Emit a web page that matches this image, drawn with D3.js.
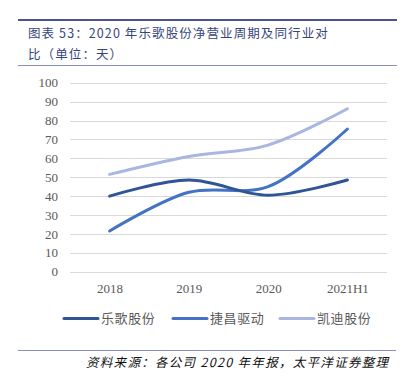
<!DOCTYPE html>
<html>
<head>
<meta charset="utf-8">
<title>乐歌股份净营业周期</title>
<script src="https://d3js.org/d3.v7.min.js"></script>
<style>
  body { margin: 0; background: #fff; }
  svg { display: block; }
</style>
</head>
<body>
<div id="chart"></div>
<script>
// categories and series
var years = ["2018", "2019", "2020", "2021H1"];
var yuege = [40, 48.5, 40.5, 48.5];     // 乐歌股份
var jiechang = [21.5, 42, 45, 75.5];    // 捷昌驱动
var kaidi = [51.5, 61, 67, 86.2];       // 凯迪股份
var seriesNames = ["乐歌股份", "捷昌驱动", "凯迪股份"];
var yTicks = [0, 10, 20, 30, 40, 50, 60, 70, 80, 90, 100];

var W = 409, H = 377;
var svg = d3.select("#chart").append("svg")
  .attr("width", W).attr("height", H);

// title block
svg.append("line").attr("x1", 18).attr("x2", 397).attr("y1", 20).attr("y2", 20)
  .attr("stroke", "#4b5391").attr("stroke-width", 2);
var title = svg.append("text")
  .attr("font-family", "'Noto Sans CJK SC', sans-serif")
  .attr("font-size", 12.5).attr("fill", "#36457a").attr("letter-spacing", 1.1);
title.append("tspan").attr("x", 28).attr("y", 38).text("图表 53：2020 年乐歌股份净营业周期及同行业对");
title.append("tspan").attr("x", 28).attr("y", 59).text("比（单位：天）");
svg.append("line").attr("x1", 18).attr("x2", 397).attr("y1", 65.5).attr("y2", 65.5)
  .attr("stroke", "#8a90bd").attr("stroke-width", 1);

// scales
var x = d3.scalePoint().domain(years).range([109.6, 347.4]);
var y = d3.scaleLinear().domain([0, 100]).range([271.7, 82.7]);

// grid
svg.append("g").selectAll("line").data(yTicks).enter().append("line")
  .attr("x1", 70).attr("x2", 387)
  .attr("y1", function (d) { return Math.round(y(d)) + 0.5; })
  .attr("y2", function (d) { return Math.round(y(d)) + 0.5; })
  .attr("stroke", "#d9d9d9").attr("stroke-width", 1);

// y labels
var yAxis = d3.axisLeft(y).tickValues(yTicks).tickSize(0).tickPadding(0);
var ya = svg.append("g").attr("transform", "translate(58,0)").call(yAxis);
ya.select(".domain").remove();
ya.selectAll("text")
  .attr("font-family", "'Liberation Serif', 'Times New Roman', serif")
  .attr("font-size", 13).attr("fill", "#595959");

// x labels
var xAxis = d3.axisBottom(x).tickSize(0).tickPadding(0);
var xa = svg.append("g").attr("transform", "translate(0,284)").call(xAxis);
xa.select(".domain").remove();
xa.selectAll("text")
  .attr("font-family", "'Liberation Serif', 'Times New Roman', serif")
  .attr("font-size", 13).attr("fill", "#595959");

// lines
var colors = ["#2f5597", "#4472c4", "#a9b7e0"];
var allSeries = [yuege, jiechang, kaidi];
var line = d3.line()
  .x(function (d, i) { return x(years[i]); })
  .y(function (d) { return y(d); })
  .curve(d3.curveCatmullRom.alpha(0.5));

svg.append("g").selectAll("path").data(allSeries.slice().reverse()).enter().append("path")
  .attr("d", line)
  .attr("fill", "none")
  .attr("stroke", function (d, i) { return colors[2 - i]; })
  .attr("stroke-width", 3)
  .attr("stroke-linecap", "round");

// legend
var legX = [64, 173, 280];
var leg = svg.append("g").selectAll("g").data(seriesNames).enter().append("g")
  .attr("transform", function (d, i) { return "translate(" + legX[i] + ",318.5)"; });
leg.append("line").attr("x1", 0).attr("x2", 34)
  .attr("stroke", function (d, i) { return colors[i]; })
  .attr("stroke-width", 3).attr("stroke-linecap", "round");
leg.append("text").attr("x", 37).attr("y", 4.5)
  .attr("font-family", "'Noto Sans CJK SC', sans-serif")
  .attr("font-size", 13).attr("fill", "#595959").attr("letter-spacing", 0.6)
  .text(function (d) { return d; });

// source
svg.append("line").attr("x1", 18).attr("x2", 396).attr("y1", 350.5).attr("y2", 350.5)
  .attr("stroke", "#8a90bd").attr("stroke-width", 1);
svg.append("text").attr("x", 86).attr("y", 367)
  .attr("font-family", "'Noto Sans CJK SC', sans-serif")
  .attr("font-size", 12.5).attr("font-style", "italic").attr("fill", "#111")
  .attr("letter-spacing", 1.3)
  .text("资料来源：各公司 2020 年年报，太平洋证券整理");
</script>
</body>
</html>
